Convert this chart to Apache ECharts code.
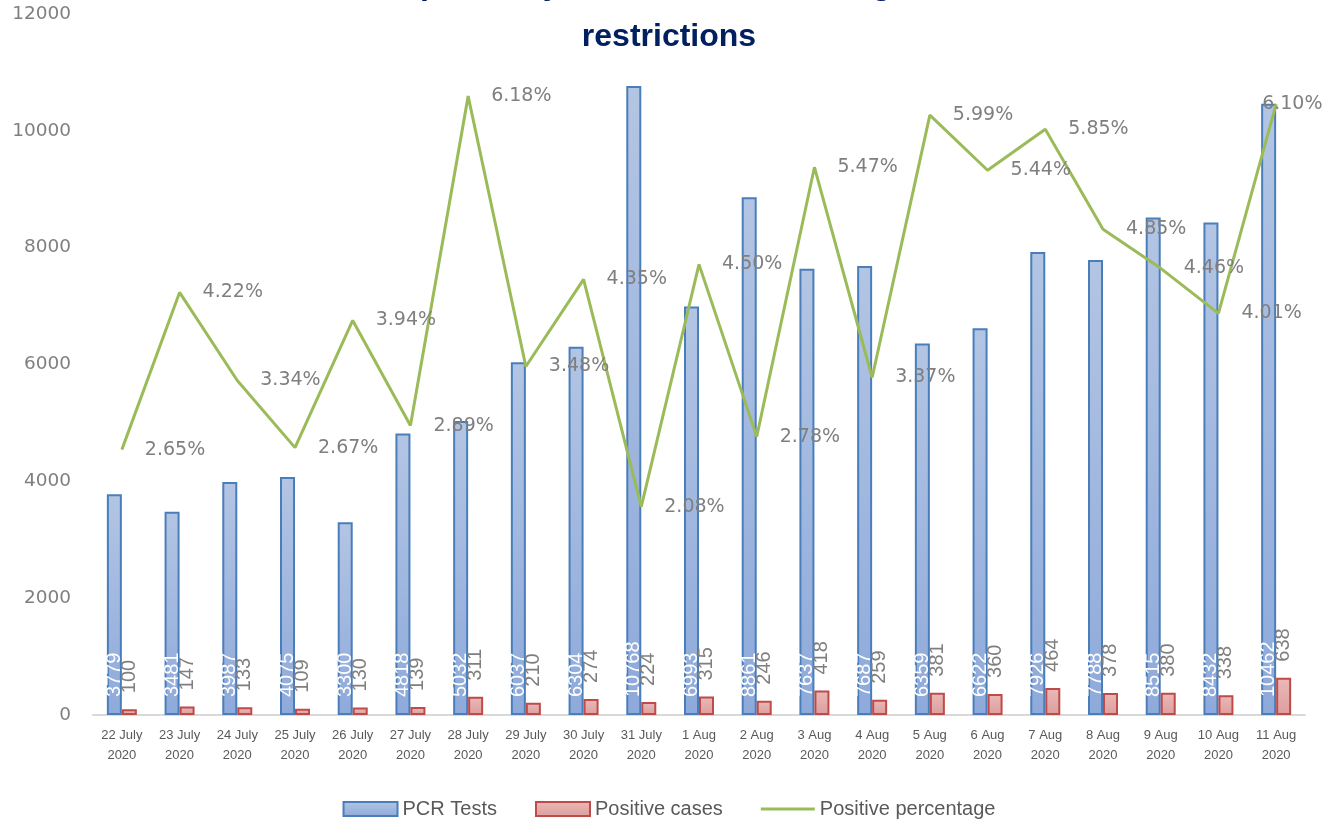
<!DOCTYPE html>
<html>
<head>
<meta charset="utf-8">
<script src="https://cdn.jsdelivr.net/npm/echarts@6/dist/echarts.min.js"></script>
<style>
  html, body { margin: 0; padding: 0; background: #fff; }
  #main { width: 1338px; height: 822px; }
</style>
</head>
<body>
<div id="main"></div>
<script>
  const days = ['22 July\n2020', '23 July\n2020', '24 July\n2020', '25 July\n2020', '26 July\n2020', '27 July\n2020',
    '28 July\n2020', '29 July\n2020', '30 July\n2020', '31 July\n2020', '1 Aug\n2020', '2 Aug\n2020', '3 Aug\n2020',
    '4 Aug\n2020', '5 Aug\n2020', '6 Aug\n2020', '7 Aug\n2020', '8 Aug\n2020', '9 Aug\n2020', '10 Aug\n2020', '11 Aug\n2020']
  const pcrTests = [3779, 3481, 3987, 4075, 3300, 4818, 5032, 6037, 6304, 10768, 6993, 8861, 7637, 7687, 6359, 6622, 7926, 7788, 8515, 8432, 10462]
  const positiveCases = [100, 147, 133, 109, 130, 139, 311, 210, 274, 224, 315, 246, 418, 259, 381, 360, 464, 378, 380, 338, 638]
  const positivePct = [2.65, 4.22, 3.34, 2.67, 3.94, 2.89, 6.18, 3.48, 4.35, 2.08, 4.50, 2.78, 5.47, 3.37, 5.99, 5.44, 5.85, 4.85, 4.46, 4.01, 6.10]

  const sans = '"Liberation Sans", sans-serif'
  const wide = '"DejaVu Sans", sans-serif'

  // last percentage label sits back over the point so it stays inside the frame
  const pctData = positivePct.map((v, i) => i === positivePct.length - 1
    ? { value: v, label: { distance: -14 } }
    : v)

  const chart = echarts.init(document.getElementById('main'))
  chart.setOption({
    animation: false,
    title: {
      text: 'PCR tests and positivity rates after the easing of the lockdown\nrestrictions',
      left: 'center',
      top: -46,
      textStyle: { fontFamily: sans, fontSize: 32, fontWeight: 'bold', color: '#002060', lineHeight: 52 }
    },
    legend: {
      top: 794,
      itemWidth: 54,
      itemHeight: 14,
      itemGap: 38,
      textStyle: { fontFamily: sans, fontSize: 20, color: '#595959' },
      data: [
        { name: 'PCR Tests', icon: 'rect' },
        { name: 'Positive cases', icon: 'rect' },
        { name: 'Positive percentage', icon: 'path://M0,0 M0,14 M0,5.5 L54,5.5 L54,8.5 L0,8.5 Z' }
      ]
    },
    grid: { left: 93, right: 33, top: 14, bottom: 107 },
    xAxis: {
      type: 'category',
      data: days,
      axisLine: { lineStyle: { color: '#d9d9d9', width: 2 } },
      axisTick: { length: 6, lineStyle: { color: '#d9d9d9', width: 2 } },
      axisLabel: { interval: 0, fontFamily: sans, fontSize: 13, color: '#595959', lineHeight: 20, margin: 10 }
    },
    yAxis: [
      {
        type: 'value', min: 0, max: 12000, interval: 2000,
        splitLine: { show: false },
        axisLine: { show: false },
        axisLabel: { fontFamily: wide, fontSize: 18.5, color: '#7f7f7f', margin: 22, formatter: v => String(v) }
      },
      { type: 'value', min: 0, max: 7, show: false, splitLine: { show: false } }
    ],
    series: [
      {
        name: 'PCR Tests',
        type: 'bar',
        barWidth: 15,
        barGap: '0%',
        data: pcrTests,
        itemStyle: {
          color: new echarts.graphic.LinearGradient(0, 0, 0, 1, [
            { offset: 0, color: '#b3c5e3' },
            { offset: 1, color: '#8eaadb' }
          ]),
          borderColor: '#4a7ebb',
          borderWidth: 2
        },
        label: {
          show: true, position: 'insideBottom', rotate: 90, align: 'left', verticalAlign: 'middle', distance: 18,
          fontFamily: sans, fontSize: 20, color: '#ffffff'
        }
      },
      {
        name: 'Positive cases',
        type: 'bar',
        barWidth: 15,
        data: positiveCases,
        itemStyle: {
          color: new echarts.graphic.LinearGradient(0, 0, 0, 1, [
            { offset: 0, color: '#eab9b8' },
            { offset: 1, color: '#dc9e9d' }
          ]),
          borderColor: '#be4b48',
          borderWidth: 2
        },
        label: {
          show: true, position: 'top', rotate: 90, align: 'left', verticalAlign: 'middle', distance: 16,
          fontFamily: sans, fontSize: 20, color: '#7f7f7f'
        }
      },
      {
        name: 'Positive percentage',
        type: 'line',
        yAxisIndex: 1,
        data: pctData,
        symbol: 'circle',
        symbolSize: 0,
        showSymbol: true,
        lineStyle: { color: '#9bbb59', width: 3 },
        itemStyle: { color: '#9bbb59' },
        label: {
          show: true, position: 'right', distance: 23,
          fontFamily: wide, fontSize: 19, color: '#7f7f7f',
          formatter: p => p.value.toFixed(2) + '%'
        },
        z: 5
      }
    ]
  })
</script>
</body>
</html>
